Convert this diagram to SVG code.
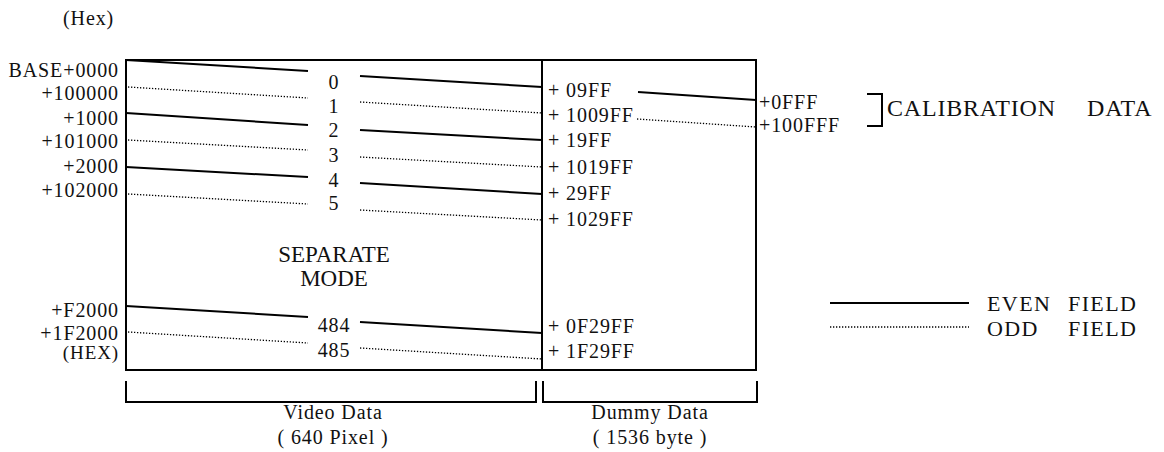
<svg xmlns="http://www.w3.org/2000/svg" width="1164" height="452" viewBox="0 0 1164 452">
  <style>
    text { font-family: "Liberation Serif", "Times New Roman", serif; fill: #111; }
    .sm { font-size: 20px; letter-spacing: 0.9px; }
    .mid { font-size: 23px; }
    .lg { font-size: 24px; letter-spacing: 0.8px; }
    .key { font-size: 22px; letter-spacing: 1.4px; }
    .r { text-anchor: end; }
    .c { text-anchor: middle; }
    .frame { fill: none; stroke: #000; stroke-width: 2; }
    .even { stroke: #000; stroke-width: 2; fill: none; }
    .odd { stroke: #000; stroke-width: 1.3; stroke-dasharray: 1.3 1.7; fill: none; }
  </style>
  <rect width="1164" height="452" fill="#fff"/>

  <text class="sm" x="63" y="25">(Hex)</text>

  <!-- memory map frame -->
  <g id="frame">
    <rect class="frame" x="126" y="60" width="630" height="310"/>
    <line class="frame" x1="542" y1="60" x2="542" y2="370"/>
  </g>

  <!-- start addresses, left -->
  <g id="addresses-left" class="sm r">
    <text x="119" y="77">BASE+0000</text>
    <text x="119" y="100">+100000</text>
    <text x="119" y="125">+1000</text>
    <text x="119" y="148">+101000</text>
    <text x="119" y="173">+2000</text>
    <text x="119" y="197">+102000</text>
    <text x="119" y="317">+F2000</text>
    <text x="119" y="340">+1F2000</text>
    <text x="119" y="359" style="font-size:19px">(HEX)</text>
  </g>

  <!-- line numbers -->
  <g id="line-numbers" class="sm c">
    <text x="334" y="89">0</text>
    <text x="334" y="113">1</text>
    <text x="334" y="137">2</text>
    <text x="334" y="162">3</text>
    <text x="334" y="187">4</text>
    <text x="334" y="210">5</text>
    <text x="334" y="332">484</text>
    <text x="334" y="357">485</text>
  </g>

  <g id="separate-mode" class="mid c">
    <text x="334" y="262">SEPARATE</text>
    <text x="334" y="286">MODE</text>
  </g>

  <!-- end addresses, right -->
  <g id="addresses-right" class="sm">
    <text x="548" y="97">+ 09FF</text>
    <text x="548" y="122">+ 1009FF</text>
    <text x="548" y="147">+ 19FF</text>
    <text x="548" y="174">+ 1019FF</text>
    <text x="548" y="200">+ 29FF</text>
    <text x="548" y="226">+ 1029FF</text>
    <text x="548" y="333">+ 0F29FF</text>
    <text x="548" y="358">+ 1F29FF</text>
  </g>

  <!-- calibration area -->
  <g id="calibration">
    <text class="sm" x="759" y="109">+0FFF</text>
    <text class="sm" x="759" y="132">+100FFF</text>
    <polyline class="frame" points="867,94 882,94 882,126 867,126"/>
    <text class="lg" x="887" y="116">CALIBRATION</text>
    <text class="lg" x="1087" y="116">DATA</text>
  </g>

  <!-- field line connectors -->
  <g id="connectors">
    <line class="even" x1="126" y1="60" x2="308" y2="71"/>
    <line class="even" x1="360" y1="76" x2="542" y2="87"/>
    <line class="odd" x1="128" y1="87" x2="308" y2="98"/>
    <line class="odd" x1="360" y1="102" x2="542" y2="113"/>
    <line class="even" x1="126" y1="113" x2="308" y2="125"/>
    <line class="even" x1="360" y1="130" x2="542" y2="140"/>
    <line class="odd" x1="128" y1="140" x2="308" y2="150"/>
    <line class="odd" x1="360" y1="157" x2="542" y2="167"/>
    <line class="even" x1="126" y1="167" x2="308" y2="177"/>
    <line class="even" x1="360" y1="183" x2="542" y2="194"/>
    <line class="odd" x1="128" y1="194" x2="308" y2="204"/>
    <line class="odd" x1="360" y1="210" x2="542" y2="220"/>
    <line class="even" x1="126" y1="306" x2="308" y2="317"/>
    <line class="even" x1="360" y1="322" x2="542" y2="333"/>
    <line class="odd" x1="128" y1="332" x2="308" y2="343"/>
    <line class="odd" x1="360" y1="348" x2="542" y2="359"/>
    <line class="even" x1="638" y1="92" x2="756" y2="100"/>
    <line class="odd" x1="637" y1="119" x2="756" y2="127"/>
  </g>

  <!-- width brackets -->
  <g id="video-data">
    <polyline class="frame" points="126,381 126,402 536,402 536,381"/>
    <text class="sm c" x="333" y="419">Video Data</text>
    <text class="sm c" x="333" y="444">( 640 Pixel )</text>
  </g>
  <g id="dummy-data">
    <polyline class="frame" points="543,381 543,402 757,402 757,381"/>
    <text class="sm c" x="650" y="419">Dummy Data</text>
    <text class="sm c" x="650" y="444">( 1536 byte )</text>
  </g>

  <!-- legend -->
  <g id="legend">
    <line class="even" x1="830" y1="303" x2="969" y2="303"/>
    <line class="odd" x1="830" y1="327" x2="969" y2="327"/>
    <text class="key" x="987" y="311">EVEN</text>
    <text class="key" x="1068" y="311">FIELD</text>
    <text class="key" x="987" y="336">ODD</text>
    <text class="key" x="1068" y="336">FIELD</text>
  </g>
</svg>
